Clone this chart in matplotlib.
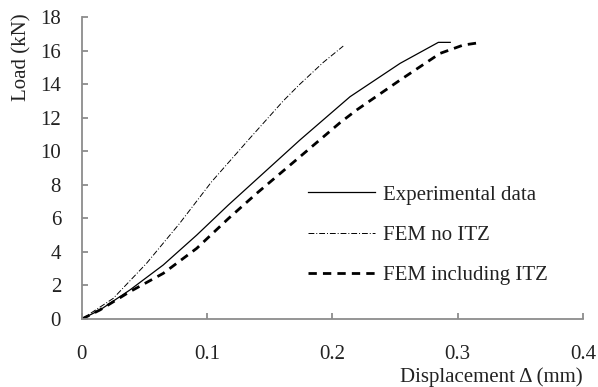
import matplotlib.pyplot as plt

plt.rcParams['font.family'] = ['Liberation Serif', 'DejaVu Serif']

# experimental load-displacement curve
exp_x = [0, 0.0144, 0.0383, 0.0649, 0.0916, 0.1168, 0.174, 0.214, 0.254, 0.2845, 0.294]
exp_y = [0, 0.54, 1.73, 3.22, 5.0, 6.79, 10.67, 13.25, 15.24, 16.49, 16.49]

# FEM without interfacial transition zone
noitz_x = [0, 0.025, 0.0516, 0.078, 0.1035, 0.134, 0.1607, 0.174, 0.1927, 0.2086]
noitz_y = [0, 1.23, 3.32, 5.7, 8.18, 10.77, 13.0, 14.0, 15.3, 16.27]

# FEM including ITZ
itz_x = [0, 0.0144, 0.0383, 0.0649, 0.0916, 0.1168, 0.1395, 0.174, 0.206, 0.2193, 0.2539, 0.2858, 0.3044, 0.3191]
itz_y = [0, 0.54, 1.63, 2.72, 4.21, 5.98, 7.49, 9.67, 11.7, 12.46, 14.24, 15.83, 16.33, 16.49]

xticks = [0, 0.1, 0.2, 0.3, 0.4]
xticklabels = ['0', '0.1', '0.2', '0.3', '0.4']
yticks = list(range(0, 19, 2))

fig = plt.figure(figsize=(5.98, 3.87), dpi=100)
ax = fig.add_axes([0.137, 0.1757, 0.838, 0.7803])

ax.plot(exp_x, exp_y, color='black', lw=0.9, label='Experimental data')
ax.plot(noitz_x, noitz_y, color='black', lw=0.7, dashes=(6, 2, 1, 2), label='FEM no ITZ')
ax.plot(itz_x, itz_y, color='black', lw=2.0, dashes=(3, 2.2), label='FEM including ITZ')

ax.set_xlim(0, 0.4)
ax.set_ylim(0, 18)
ax.set_xticks(xticks)
ax.set_xticklabels(xticklabels)
ax.set_yticks(yticks)

for s in ['top', 'right']:
    ax.spines[s].set_visible(False)
for s in ['left', 'bottom']:
    ax.spines[s].set_color('#8c8c8c')
    ax.spines[s].set_linewidth(1.3)

ax.tick_params(direction='in', length=4, width=1.3, color='#8c8c8c', labelsize=15, labelcolor='#222222')
ax.tick_params(axis='x', pad=19)
ax.tick_params(axis='y', pad=15)

ax.text(-0.12, 1.013, 'Load (kN)', transform=ax.transAxes, rotation=90,
        ha='center', va='top', fontsize=15, color='#222222')
ax.text(1.0, -0.192, 'Displacement \u0394 (mm)', transform=ax.transAxes,
        ha='right', va='center', fontsize=15, color='#222222')

leg = ax.legend(loc='upper left', bbox_to_anchor=(0.451, 0.444), frameon=False,
                borderaxespad=0, borderpad=0,
                fontsize=15, handlelength=3.2, handletextpad=0.4, labelspacing=1.0)
for t in leg.get_texts():
    t.set_color('#222222')

fig.savefig('out.png', dpi=100)
